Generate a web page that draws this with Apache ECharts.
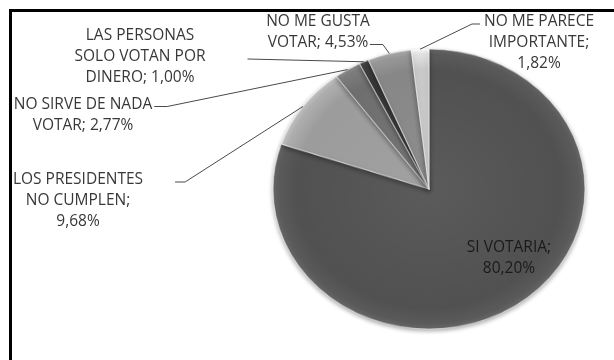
<!DOCTYPE html>
<html>
<head>
<meta charset="utf-8">
<script src="https://cdn.jsdelivr.net/npm/echarts@6/dist/echarts.min.js"></script>
<style>
  html, body { margin: 0; padding: 0; background: #fff; }
  #wrap { position: relative; width: 614px; height: 360px; overflow: hidden; }
  #pie, #labels { position: absolute; left: 0; top: 0; width: 614px; height: 360px; }
</style>
</head>
<body>
<div id="wrap">
  <div id="pie"></div>
  <div id="labels"></div>
</div>
<script>
// ---- data ----
var categories = [
  'SI VOTARIA',
  'LOS PRESIDENTES\nNO CUMPLEN',
  'NO SIRVE DE NADA\nVOTAR',
  'LAS PERSONAS\nSOLO VOTAN POR\nDINERO',
  'NO ME GUSTA\nVOTAR',
  'NO ME PARECE\nIMPORTANTE'
];
var values = [80.20, 9.68, 2.77, 1.00, 4.53, 1.82];
// separator between name and value in each label
var valueSeparators = [';\n', ';\n', '; ', '; ', '; ', ';\n'];

// ---- styles / layout ----
var sliceColors = ['#515151', '#9c9c9c', '#6f6f6f', '#383838', '#878787', '#c9c9c9'];
var CX = 429, CY = 189, R = 156, RY = 140;
var K = RY / R;           // vertical squash of the pie (tilted look)
var FONT = 15.5, LH = 21;
var labelCenters = [
  [509, 258],
  [78, 201],
  [83, 115],
  [140, 57],
  [318, 32],
  [539, 43]
];
// leader line attachment: side of label, line index, gap from text, horizontal length
var guideSpecs = [
  null,
  { side: 'right', line: 0, gap: 32, len: 10 },
  { side: 'right', line: 0, gap: 2, len: 13 },
  { side: 'right', line: 1, gap: 42, len: 0 },
  { side: 'right', line: 1, gap: 0, len: 13 },
  { side: 'left', line: 0, gap: 4, len: 8 }
];

document.getElementById('pie').style.transform = 'scaleY(' + K + ')';
document.getElementById('pie').style.transformOrigin = '0px ' + CY + 'px';

function rimGradient(base) {
  return {
    type: 'radial', x: CX, y: CY, r: R, global: true,
    colorStops: [
      { offset: 0, color: echarts.color.lift(base, 0.06) },
      { offset: 0.85, color: base },
      { offset: 0.96, color: echarts.color.lift(base, -0.12) },
      { offset: 1, color: echarts.color.lift(base, -0.3) }
    ]
  };
}

function fmt(p) {
  return p.name + valueSeparators[p.dataIndex] + p.value.toFixed(2).replace('.', ',') + '%';
}

// ---- chart A: the (squashed) pie itself ----
var pieChart = echarts.init(document.getElementById('pie'), null, { renderer: 'canvas' });
pieChart.setOption({
  animation: false,
  series: [{
    type: 'pie',
    center: [CX, CY],
    radius: [0, R],
    startAngle: 90,
    clockwise: true,
    silent: true,
    label: { show: false },
    labelLine: { show: false },
    itemStyle: {
      borderColor: 'rgba(255,255,255,0.5)',
      borderWidth: 1.2,
      shadowBlur: 5,
      shadowOffsetY: 2,
      shadowColor: 'rgba(0,0,0,0.35)'
    },
    data: categories.map(function (name, i) {
      return { name: name, value: values[i], itemStyle: { color: rimGradient(sliceColors[i]) } };
    })
  }]
});

// ---- chart B: labels, leader lines and frame ----
var labelChart = echarts.init(document.getElementById('labels'), null, { renderer: 'canvas' });
labelChart.setOption({
  animation: false,
  backgroundColor: 'transparent',
  graphic: [{
    type: 'rect',
    shape: { x: 10.5, y: 10.5, width: 1000, height: 1000 },
    style: { fill: 'none', stroke: '#000000', lineWidth: 3 },
    z: 100
  }],
  series: [{
    type: 'pie',
    center: [CX, CY],
    radius: [0, R],
    startAngle: 90,
    clockwise: true,
    silent: true,
    avoidLabelOverlap: false,
    itemStyle: { color: 'rgba(0,0,0,0)', borderWidth: 0 },
    label: {
      show: true,
      position: 'outside',
      fontFamily: 'Open Sans',
      fontSize: FONT,
      lineHeight: LH,
      color: '#383838',
      align: 'center',
      formatter: fmt
    },
    labelLine: {
      show: true,
      length: 10,
      length2: 10,
      lineStyle: { color: '#4a4a4a', width: 1 }
    },
    labelLayout: function (params) {
      var i = params.dataIndex;
      var c = labelCenters[i];
      var out = { x: c[0], y: c[1], align: 'center', verticalAlign: 'middle' };
      var g = guideSpecs[i];
      var pts = params.labelLinePoints;
      if (g && pts) {
        var w = params.labelRect.width;
        var nLines = fmt({ name: categories[i], value: values[i], dataIndex: i }).split('\n').length;
        var top = c[1] - nLines * LH / 2;
        var ay = top + LH * (g.line + 0.5) + 2;
        var ax = g.side === 'right' ? c[0] + w / 2 + g.gap : c[0] - w / 2 - g.gap;
        var bx = g.side === 'right' ? ax + g.len : ax - g.len;
        var p0 = [pts[0][0], CY + (pts[0][1] - CY) * K];
        out.labelLinePoints = [p0, [bx, ay], [ax, ay]];
      }
      return out;
    },
    emphasis: { disabled: true },
    data: categories.map(function (name, i) {
      var item = { name: name, value: values[i] };
      if (i === 0) {
        item.labelLine = { show: false };
        item.label = { color: '#1a1a1a' };
      }
      return item;
    })
  }]
});
</script>
</body>
</html>
